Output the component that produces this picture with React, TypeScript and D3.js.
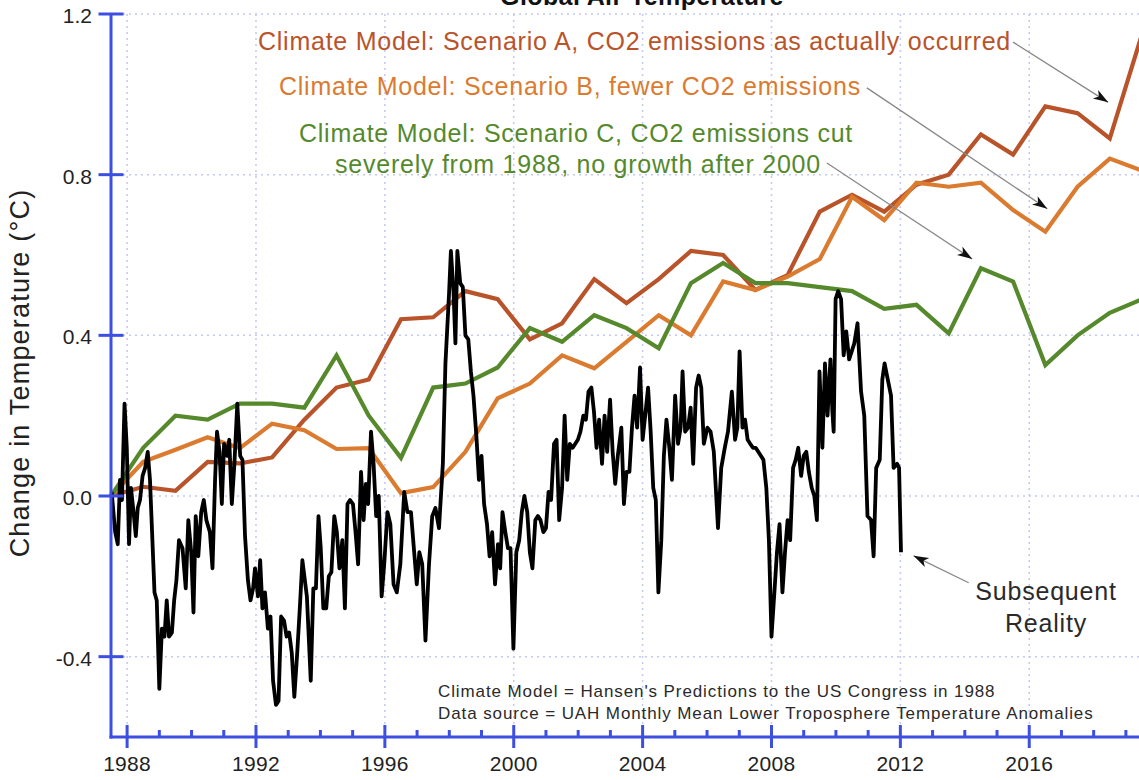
import React from "react";
import * as d3 from "d3";

// chart data
const modelYears = [
  1987.5, 1988.5, 1989.5, 1990.5, 1991.5, 1992.5, 1993.5, 1994.5, 1995.5, 1996.5, 1997.5,
  1998.5, 1999.5, 2000.5, 2001.5, 2002.5, 2003.5, 2004.5, 2005.5, 2006.5, 2007.5, 2008.5,
  2009.5, 2010.5, 2011.5, 2012.5, 2013.5, 2014.5, 2015.5, 2016.5, 2017.5, 2018.5, 2019.5,
];

const scenarioA = [
  0, 0.023, 0.013, 0.085, 0.081, 0.096, 0.19, 0.27, 0.29, 0.44, 0.445, 0.51, 0.49, 0.39, 0.43,
  0.54, 0.48, 0.54, 0.61, 0.6, 0.513, 0.55, 0.708, 0.75, 0.708, 0.775, 0.8, 0.9, 0.85, 0.97,
  0.953, 0.89, 1.15,
];

const scenarioB = [
  0, 0.085, 0.115, 0.146, 0.119, 0.18, 0.164, 0.117, 0.119, 0.007, 0.022, 0.11, 0.243, 0.28,
  0.35, 0.318, 0.384, 0.45, 0.4, 0.534, 0.513, 0.546, 0.59, 0.745, 0.687, 0.78, 0.77, 0.78,
  0.712, 0.658, 0.77, 0.84, 0.81,
];

const scenarioC = [
  0, 0.12, 0.2, 0.19, 0.23, 0.23, 0.22, 0.35, 0.2, 0.095, 0.27, 0.28, 0.32, 0.418, 0.384, 0.45,
  0.418, 0.368, 0.53, 0.58, 0.53, 0.53, 0.52, 0.51, 0.466, 0.476, 0.405, 0.567, 0.534, 0.326,
  0.4, 0.456, 0.49,
];

// UAH lower troposphere anomalies, [year, value]
const uahMonthly: [number, number][] = [
  [1987.52, 0.01], [1987.63, -0.09], [1987.71, -0.12], [1987.78, 0.04], [1987.84, -0.01],
  [1987.92, 0.23], [1987.99, 0.12], [1988.06, -0.12], [1988.12, 0.02], [1988.2, -0.04],
  [1988.27, -0.1], [1988.33, -0.03], [1988.4, -0.01], [1988.48, 0.05], [1988.56, 0.07],
  [1988.64, 0.11], [1988.71, 0.04], [1988.85, -0.24], [1988.92, -0.26], [1989.0, -0.48],
  [1989.08, -0.33], [1989.16, -0.35], [1989.23, -0.26], [1989.3, -0.35], [1989.39, -0.34],
  [1989.46, -0.26], [1989.53, -0.21], [1989.61, -0.11], [1989.72, -0.13], [1989.82, -0.23],
  [1989.9, -0.06], [1989.99, -0.14], [1990.06, -0.29], [1990.13, -0.05], [1990.21, -0.15],
  [1990.3, -0.04], [1990.38, -0.01], [1990.46, -0.06], [1990.57, -0.09], [1990.65, -0.18],
  [1990.73, 0.04], [1990.79, 0.16], [1990.87, 0.11], [1990.94, -0.02], [1991.01, 0.13],
  [1991.1, 0.1], [1991.17, 0.14], [1991.25, -0.02], [1991.33, 0.08], [1991.42, 0.23],
  [1991.51, 0.1], [1991.58, 0.09], [1991.66, -0.1], [1991.75, -0.21], [1991.83, -0.26],
  [1991.91, -0.23], [1991.97, -0.18], [1992.06, -0.25], [1992.13, -0.16], [1992.2, -0.28],
  [1992.28, -0.24], [1992.37, -0.33], [1992.45, -0.3], [1992.53, -0.46], [1992.62, -0.52],
  [1992.7, -0.51], [1992.78, -0.3], [1992.87, -0.31], [1992.95, -0.35], [1993.03, -0.34],
  [1993.11, -0.39], [1993.19, -0.5], [1993.28, -0.39], [1993.36, -0.28], [1993.44, -0.16],
  [1993.58, -0.25], [1993.7, -0.46], [1993.78, -0.23], [1993.86, -0.23], [1993.94, -0.05],
  [1994.01, -0.13], [1994.09, -0.28], [1994.18, -0.28], [1994.26, -0.2], [1994.34, -0.19],
  [1994.43, -0.05], [1994.51, -0.09], [1994.59, -0.18], [1994.68, -0.11], [1994.76, -0.28],
  [1994.84, -0.02], [1994.92, -0.01], [1995.01, -0.02], [1995.09, -0.09], [1995.17, -0.17],
  [1995.26, 0.06], [1995.34, -0.06], [1995.41, 0.03], [1995.48, -0.02], [1995.57, 0.16],
  [1995.65, 0.08], [1995.73, -0.05], [1995.81, 0.0], [1995.9, -0.25], [1995.98, -0.17],
  [1996.08, -0.04], [1996.17, -0.07], [1996.27, -0.22], [1996.37, -0.24], [1996.48, -0.17],
  [1996.6, 0.01], [1996.7, -0.04], [1996.81, -0.04], [1996.89, -0.12], [1996.99, -0.22],
  [1997.07, -0.14], [1997.16, -0.17], [1997.26, -0.36], [1997.37, -0.17], [1997.47, -0.05],
  [1997.57, -0.03], [1997.68, -0.08], [1997.8, 0.08], [1997.88, 0.33], [1997.99, 0.5],
  [1998.05, 0.61], [1998.13, 0.51], [1998.19, 0.38], [1998.25, 0.61], [1998.34, 0.53],
  [1998.42, 0.52], [1998.5, 0.4], [1998.59, 0.39], [1998.67, 0.31], [1998.75, 0.25],
  [1998.84, 0.15], [1998.92, 0.04], [1999.0, 0.1], [1999.08, -0.02], [1999.17, -0.07],
  [1999.25, -0.15], [1999.33, -0.09], [1999.42, -0.22], [1999.51, -0.12], [1999.58, -0.18],
  [1999.65, -0.04], [1999.74, -0.09], [1999.82, -0.13], [1999.9, -0.13], [1999.99, -0.38],
  [2000.08, -0.14], [2000.17, -0.11], [2000.25, -0.04], [2000.33, 0.0], [2000.42, -0.04],
  [2000.5, -0.14], [2000.58, -0.18], [2000.67, -0.06], [2000.75, -0.05], [2000.83, -0.06],
  [2000.92, -0.09], [2001.0, -0.08], [2001.08, 0.01], [2001.16, -0.01], [2001.25, 0.13],
  [2001.33, 0.14], [2001.41, -0.06], [2001.5, 0.02], [2001.58, 0.2], [2001.66, 0.04],
  [2001.74, 0.13], [2001.83, 0.12], [2001.91, 0.13], [2001.99, 0.14], [2002.07, 0.16],
  [2002.16, 0.2], [2002.24, 0.19], [2002.32, 0.26], [2002.41, 0.27], [2002.49, 0.21],
  [2002.57, 0.12], [2002.65, 0.19], [2002.74, 0.08], [2002.82, 0.2], [2002.9, 0.11],
  [2002.99, 0.24], [2003.07, 0.11], [2003.15, 0.03], [2003.23, 0.1], [2003.34, 0.17],
  [2003.42, -0.02], [2003.5, 0.06], [2003.59, 0.06], [2003.67, 0.17], [2003.75, 0.25],
  [2003.83, 0.17], [2003.92, 0.32], [2004.0, 0.14], [2004.08, 0.2], [2004.17, 0.27],
  [2004.25, 0.16], [2004.33, 0.02], [2004.41, -0.01], [2004.49, -0.24], [2004.58, -0.11],
  [2004.66, 0.1], [2004.74, 0.19], [2004.83, 0.12], [2004.91, 0.04], [2005.01, 0.25],
  [2005.1, 0.13], [2005.18, 0.17], [2005.24, 0.31], [2005.32, 0.16], [2005.41, 0.17],
  [2005.49, 0.22], [2005.57, 0.08], [2005.66, 0.27], [2005.74, 0.3], [2005.82, 0.27],
  [2005.9, 0.13], [2006.01, 0.17], [2006.11, 0.16], [2006.21, 0.11], [2006.34, -0.08],
  [2006.44, 0.07], [2006.55, 0.12], [2006.65, 0.16], [2006.77, 0.26], [2006.87, 0.14],
  [2006.94, 0.17], [2007.01, 0.36], [2007.1, 0.17], [2007.18, 0.19], [2007.26, 0.14],
  [2007.34, 0.13], [2007.43, 0.12], [2007.51, 0.12], [2007.59, 0.11], [2007.67, 0.1],
  [2007.75, 0.09], [2007.84, 0.02], [2007.92, -0.11], [2008.0, -0.35], [2008.09, -0.24],
  [2008.17, -0.14], [2008.25, -0.07], [2008.34, -0.24], [2008.42, -0.14], [2008.5, -0.06],
  [2008.58, -0.11], [2008.67, 0.07], [2008.75, 0.09], [2008.83, 0.12], [2008.92, 0.05],
  [2009.0, 0.1], [2009.08, 0.11], [2009.16, 0.06], [2009.25, 0.02], [2009.33, 0.0],
  [2009.41, -0.06], [2009.49, 0.31], [2009.58, 0.12], [2009.66, 0.33], [2009.74, 0.2],
  [2009.83, 0.34], [2009.89, 0.21], [2009.93, 0.16], [2009.99, 0.49], [2010.07, 0.51],
  [2010.16, 0.49], [2010.24, 0.35], [2010.32, 0.41], [2010.41, 0.34], [2010.49, 0.36],
  [2010.57, 0.38], [2010.67, 0.43], [2010.78, 0.26], [2010.88, 0.2], [2010.98, -0.05],
  [2011.09, -0.06], [2011.17, -0.15], [2011.25, 0.07], [2011.36, 0.09], [2011.44, 0.29],
  [2011.51, 0.33], [2011.61, 0.29], [2011.71, 0.25], [2011.79, 0.07], [2011.9, 0.08],
  [2011.96, 0.07], [2012.02, -0.14],
];

const yearTicks = [1988, 1992, 1996, 2000, 2004, 2008, 2012, 2016];
const minorYearTicks = [
  1989, 1990, 1991, 1993, 1994, 1995, 1997, 1998, 1999, 2001, 2002, 2003, 2005, 2006, 2007,
  2009, 2010, 2011, 2013, 2014, 2015, 2017, 2018, 2019,
];
const tempTicks = [1.2, 0.8, 0.4, 0, -0.4];
const tempTickLabels = ["1.2", "0.8", "0.4", "0.0", "-0.4"];

const FONT = "'Liberation Sans', Arial, Helvetica, sans-serif";
const AXIS = "#3d4fe0";
const GRID = "#c4c8f4";
const COL_A = "#b9532a";
const COL_B = "#da7b30";
const COL_C = "#55892c";

export default function App() {
  const width = 1139;
  const height = 780;

  const x = d3.scaleLinear().domain([1987.5, 2019.5]).range([111, 1142]);
  const y = d3.scaleLinear().domain([-0.6, 1.2]).range([737, 14]);
  const x0 = x(1987.5);
  const y0 = y(-0.6);

  const line = d3
    .line<[number, number]>()
    .x((d) => x(d[0]))
    .y((d) => y(d[1]));

  const series = [
    { values: scenarioA, color: COL_A },
    { values: scenarioB, color: COL_B },
    { values: scenarioC, color: COL_C },
  ];

  // arrows in data space: [tailYear, tailVal, tipYear, tipVal]
  const arrows = [
    [2015.5, 1.13, 2018.45, 0.98],
    [2010.96, 1.016, 2016.56, 0.715],
    [2009.72, 0.829, 2014.23, 0.59],
    [2014.12, -0.216, 2012.41, -0.149],
  ];

  return (
    <svg
      width={width}
      height={height}
      style={{ position: "absolute", left: 0, top: 0, background: "#fff" }}
      fontFamily={FONT}
    >
      <defs>
        <marker
          id="head"
          markerUnits="userSpaceOnUse"
          markerWidth={16}
          markerHeight={12}
          refX={15}
          refY={5}
          orient="auto"
        >
          <path d="M0,0 L15,5 L0,10 L4,5 Z" fill="#111" />
        </marker>
      </defs>

      {/* grid */}
      <g stroke={GRID} strokeWidth={1.5} strokeDasharray="2,4">
        {tempTicks.map((t) => (
          <line key={"h" + t} x1={x0} x2={width} y1={y(t)} y2={y(t)} />
        ))}
        {yearTicks.map((t) => (
          <line key={"v" + t} x1={x(t)} x2={x(t)} y1={y(1.2)} y2={y0} />
        ))}
      </g>

      {/* title, mostly cut off at the top as in the source */}
      <text x={642} y={5} textAnchor="middle" fontSize={25} fontWeight="bold" letterSpacing={0.4} fill="#111">
        Global Air Temperature
      </text>

      {/* model scenarios */}
      {series.map((s, i) => (
        <path
          key={i}
          d={line(modelYears.map((yr, j) => [yr, s.values[j]]) as [number, number][]) || ""}
          fill="none"
          stroke={s.color}
          strokeWidth={4.2}
          strokeLinejoin="miter"
        />
      ))}

      {/* reality */}
      <path d={line(uahMonthly) || ""} fill="none" stroke="#000" strokeWidth={3.8} strokeLinejoin="round" />

      {/* arrows */}
      {arrows.map((a, i) => (
        <line
          key={i}
          x1={x(a[0])}
          y1={y(a[1])}
          x2={x(a[2])}
          y2={y(a[3])}
          stroke="#888"
          strokeWidth={1.3}
          markerEnd="url(#head)"
        />
      ))}

      {/* annotations */}
      <g fontSize={25} letterSpacing={0.75}>
        <text x={258} y={50} fill={COL_A}>
          Climate Model: Scenario A, CO2 emissions as actually occurred
        </text>
        <text x={279} y={95} fill={COL_B}>
          Climate Model: Scenario B, fewer CO2 emissions
        </text>
        <text x={576} y={142} fill={COL_C} textAnchor="middle">
          Climate Model: Scenario C, CO2 emissions cut
        </text>
        <text x={578} y={173} fill={COL_C} textAnchor="middle">
          severely from 1988, no growth after 2000
        </text>
      </g>
      <g fontSize={25} letterSpacing={0.8} fill="#2a2a2a" textAnchor="middle">
        <text x={1046} y={600}>Subsequent</text>
        <text x={1046} y={632}>Reality</text>
      </g>
      <g fontSize={17} letterSpacing={0.9} fill="#2a2a2a">
        <text x={438} y={697}>Climate Model = Hansen's Predictions to the US Congress in 1988</text>
        <text x={438} y={719}>Data source = UAH Monthly Mean Lower Troposphere Temperature Anomalies</text>
      </g>

      {/* axes */}
      <g stroke={AXIS} strokeWidth={3}>
        <line x1={x0} x2={x0} y1={y(1.2)} y2={y0 + 1.5} />
        <line x1={x0 - 1.5} x2={width} y1={y0} y2={y0} />
        {tempTicks.map((t) => (
          <line key={"yt" + t} x1={x0 - 12.5} x2={x0 + 12.5} y1={y(t)} y2={y(t)} />
        ))}
        {yearTicks.map((t) => (
          <line key={"xt" + t} x1={x(t)} x2={x(t)} y1={y0 - 12} y2={y0 + 11} />
        ))}
        {minorYearTicks.map((t) => (
          <line key={"xm" + t} x1={x(t)} x2={x(t)} y1={y0 - 7} y2={y0} />
        ))}
      </g>
      <g fontSize={21} fill="#222">
        {tempTicks.map((t, i) => (
          <text key={"yl" + t} x={92} y={y(t) + 9} textAnchor="end">
            {tempTickLabels[i]}
          </text>
        ))}
        {yearTicks.map((t) => (
          <text key={"xl" + t} x={x(t)} y={771} textAnchor="middle" letterSpacing={0.3}>
            {t}
          </text>
        ))}
      </g>
      <text
        transform={`translate(29,${373}) rotate(-90)`}
        textAnchor="middle"
        fontSize={27}
        letterSpacing={1.2}
        fill="#222"
      >
        Change in Temperature (°C)
      </text>
    </svg>
  );
}
